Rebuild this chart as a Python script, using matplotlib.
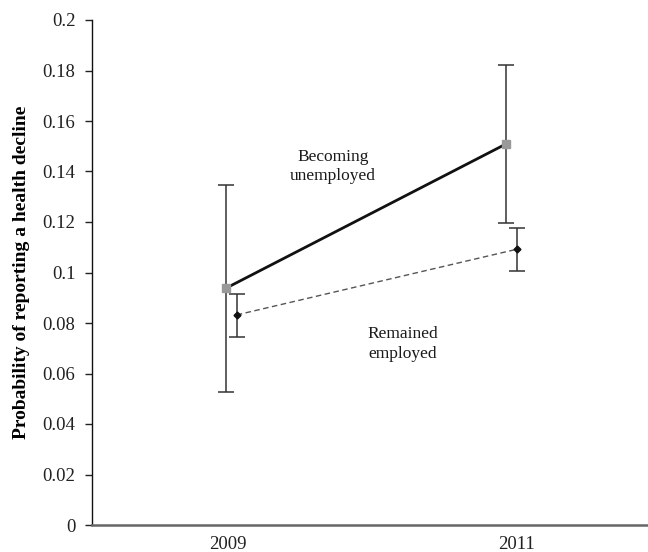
import matplotlib.pyplot as plt
import numpy as np

# Predicted probability of reporting a health decline, with confidence bounds
years = ["2009", "2011"]
unemp_mean = [0.0937, 0.1508]
unemp_low = [0.0528, 0.1195]
unemp_high = [0.1347, 0.1822]
empl_mean = [0.0832, 0.1092]
empl_low = [0.0746, 0.1006]
empl_high = [0.0914, 0.1175]

plt.rcParams['font.family'] = ['Liberation Serif', 'DejaVu Serif']

fig = plt.figure(figsize=(6.48, 5.52), dpi=100)
ax = fig.add_axes([92 / 648, 27 / 552, 556 / 648, 505 / 552])

x = np.arange(len(years))
shift = 0.04  # small horizontal offset so the two groups don't overlap

um = np.array(unemp_mean)
em = np.array(empl_mean)
uerr = [um - np.array(unemp_low), np.array(unemp_high) - um]
eerr = [em - np.array(empl_low), np.array(empl_high) - em]

ax.errorbar(x, um, yerr=uerr, fmt='none', ecolor='#333333', elinewidth=1.1,
            capsize=6, capthick=1.1, zorder=2)
ax.plot(x, um, color='#111111', lw=2, zorder=3)
ax.plot(x, um, ls='none', marker='s', ms=6, color='#999999', zorder=4)

ax.errorbar(x + shift, em, yerr=eerr, fmt='none', ecolor='#333333', elinewidth=1.1,
            capsize=6, capthick=1.1, zorder=2)
ax.plot(x + shift, em, color='#555555', lw=1, ls=(0, (4, 2.5)), zorder=3)
ax.plot(x + shift, em, ls='none', marker='D', ms=3.5, color='#111111', zorder=4)

ax.text(0.384, 0.142, "Becoming\nunemployed", ha='center', va='center',
        fontsize=12.5, linespacing=1.3, color='#1a1a1a')
ax.text(0.634, 0.0717, "Remained\nemployed", ha='center', va='center',
        fontsize=12.5, linespacing=1.3, color='#1a1a1a')

ax.set_xlim(-0.477, 1.509)
ax.set_ylim(0, 0.2)
ax.set_yticks(np.arange(0, 0.201, 0.02))
ax.set_yticklabels(["0", "0.02", "0.04", "0.06", "0.08", "0.1", "0.12",
                    "0.14", "0.16", "0.18", "0.2"])
ax.set_xticks([0.01, 1.04])
ax.set_xticklabels(years)
ax.tick_params(axis='x', length=0, pad=8, labelsize=13.5, colors='#222222')
ax.tick_params(axis='y', length=5, width=1, direction='out', pad=7,
               labelsize=13.5, colors='#222222')

ax.set_ylabel("Probability of reporting a health decline", fontsize=14,
              fontweight='bold')
ax.yaxis.set_label_coords(-0.112, 0.5)

for side in ['top', 'right']:
    ax.spines[side].set_visible(False)
ax.spines['left'].set_color('#111111')
ax.spines['left'].set_linewidth(1)
ax.spines['bottom'].set_color('#666666')
ax.spines['bottom'].set_linewidth(1.8)

fig.savefig("out.png", dpi=100)
